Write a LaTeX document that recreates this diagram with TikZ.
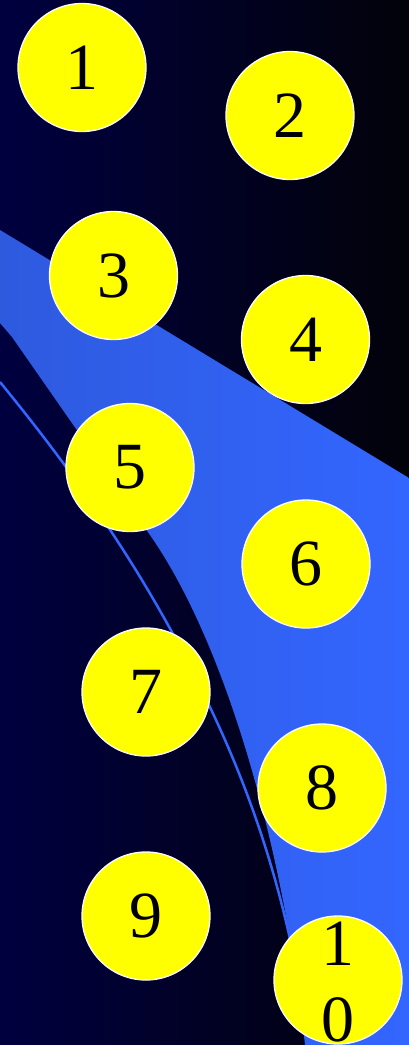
\documentclass[tikz,border=0pt]{standalone}
\usepackage{fontspec}
\setmainfont{Liberation Serif}
\definecolor{bgleft}{RGB}{0,0,64}
\definecolor{bgright}{RGB}{2,2,10}
\definecolor{bandleft}{RGB}{46,90,222}
\definecolor{bandright}{RGB}{51,102,255}
\definecolor{ballyellow}{RGB}{255,255,0}
\tikzset{
  ball/.style={circle, minimum size=128pt, inner sep=0pt, fill=ballyellow, draw=white, line width=1.3pt,
    font=\fontsize{66}{76}\selectfont, text=black},
  balltext/.style={inner sep=0pt, align=center, font=\fontsize{66}{76}\selectfont, text=black},
  thinline/.style={draw=bandright, line width=2.5pt}
}
\begin{document}
\begin{tikzpicture}[x=1pt,y=-1pt]
\useasboundingbox (0,0) rectangle (409,1045);
\clip (0,0) rectangle (409,1045);
% background
\shade[left color=bgleft, right color=bgright] (0,0) rectangle (409,1045);
% blue band
\shade[left color=bandleft, right color=bandright]
  (0,230) -- (409,478) -- (409,1045) -- (305,1045)
  .. controls (285,860) and (230,650) .. (150,535)
  -- (12,337) -- (0,323) -- cycle;
% thin curve
\coordinate (ts) at (0,382);
\coordinate (tm) at (208,703);
\coordinate (te) at (300,990);
\draw[thinline] (ts) .. controls (80,480) and (150,580) .. (tm)
  .. controls (250,790) and (282,885) .. (te);
% balls
\node[ball] (n1) at (82,67.5) {1};
\node[ball] (n2) at (290,115.5) {2};
\node[ball] (n3) at (113.5,275.5) {3};
\node[ball] (n4) at (305.5,339.5) {4};
\node[ball] (n5) at (130,467.5) {5};
\node[ball] (n6) at (306,564) {6};
\node[ball] (n7) at (146,692) {7};
\node[ball] (n8) at (322,788) {8};
\node[ball] (n9) at (146,916) {9};
\node[ball] (n10) at (338,980) {};
\node[balltext] (t10) at (338,982) {1\\0};
\end{tikzpicture}
\end{document}
